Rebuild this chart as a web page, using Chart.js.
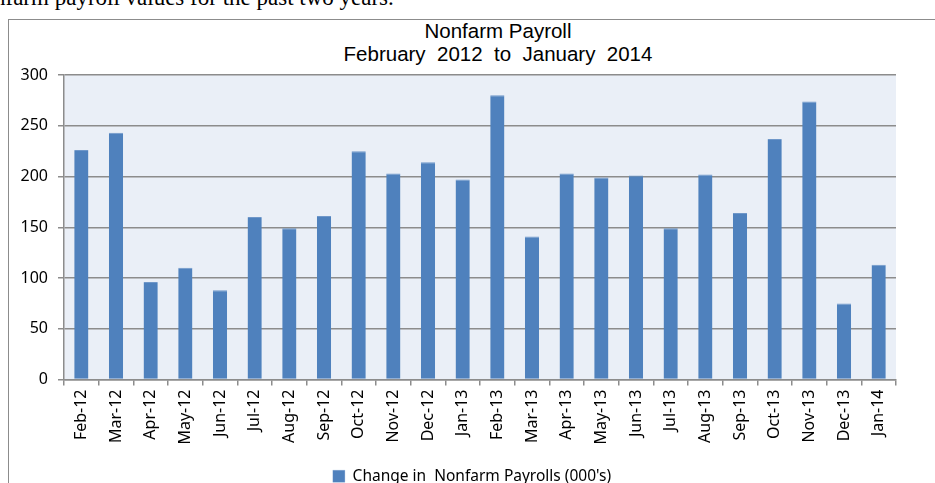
<!DOCTYPE html>
<html>
<head>
<meta charset="utf-8">
<script src="https://cdn.jsdelivr.net/npm/chart.js@4"></script>
<style>
  html, body { margin: 0; padding: 0; background: #fff; overflow: hidden; }
  body { width: 935px; height: 483px; position: relative; }
  #intro {
    position: absolute; left: -6px; top: -15px; white-space: nowrap;
    font-family: "Liberation Serif", serif; font-size: 23px; color: #000;
  }
  #frame {
    position: absolute; left: 8px; top: 19px; width: 940px; height: 480px;
    border-left: 1.5px solid #8c8c8c; border-top: 1.5px solid #8c8c8c;
  }
  #title {
    position: absolute; left: 298px; width: 400px; top: 19px; text-align: center;
    font-family: "Liberation Sans", Arial, sans-serif; font-size: 20.5px; line-height: 23px;
    color: #000; white-space: pre;
  }
  #wrap { position: absolute; left: 0; top: 0; width: 935px; height: 494px; }
</style>
</head>
<body>
<div id="intro">nfarm payroll values for the past two years.</div>
<div id="frame"></div>
<div id="title"></div>
<div id="wrap"><canvas id="payrollChart"></canvas></div>
<script>
const months = ['Feb-12', 'Mar-12', 'Apr-12', 'May-12', 'Jun-12', 'Jul-12', 'Aug-12', 'Sep-12',
  'Oct-12', 'Nov-12', 'Dec-12', 'Jan-13', 'Feb-13', 'Mar-13', 'Apr-13', 'May-13', 'Jun-13',
  'Jul-13', 'Aug-13', 'Sep-13', 'Oct-13', 'Nov-13', 'Dec-13', 'Jan-14'];
const payrollChange = [226, 243, 96, 110, 88, 160, 149, 161, 225, 203, 214, 197, 280, 141,
  203, 199, 201, 149, 202, 164, 237, 274, 75, 113];
const titleLines = ['Nonfarm Payroll', 'February  2012  to  January  2014'];
const seriesName = "Change in  Nonfarm Payrolls (000's)";

// title sits off-centre in the original, so it is plain text over the canvas
document.getElementById('title').textContent = titleLines.join('\n');

// light blue plot area like the spreadsheet chart
const plotBackground = {
  id: 'plotBackground',
  beforeDraw(chart) {
    const a = chart.chartArea;
    const ctx = chart.ctx;
    ctx.save();
    ctx.fillStyle = '#eaeff7';
    ctx.fillRect(a.left, a.top, a.right - a.left, a.bottom - a.top);
    ctx.restore();
  }
};

// legend is a bit right of the canvas centre in the original
const legendShift = {
  id: 'legendShift',
  afterLayout(chart) {
    chart.legend.left += 24;
    chart.legend.right += 24;
  }
};

const ctx = document.getElementById('payrollChart').getContext('2d');
new Chart(ctx, {
  type: 'bar',
  data: {
    labels: months,
    datasets: [{
      label: seriesName,
      data: payrollChange,
      backgroundColor: '#4f81bd',
      borderColor: '#6f97c9',
      borderWidth: { top: 1, left: 0, right: 0, bottom: 0 },
      categoryPercentage: 1,
      barPercentage: 0.41
    }]
  },
  options: {
    responsive: true,
    maintainAspectRatio: false,
    animation: false,
    layout: { padding: { left: 0, right: 39, top: 75, bottom: 0 } },
    scales: {
      x: {
        offset: true,
        grid: {
          offset: true,
          drawOnChartArea: false,
          drawTicks: true,
          tickLength: 6,
          color: '#8c8c8c',
          lineWidth: 1.5
        },
        border: { color: '#8c8c8c', width: 1.5 },
        ticks: {
          minRotation: 90,
          maxRotation: 90,
          autoSkip: false,
          padding: 4,
          color: '#000',
          font: { family: 'Noto Sans', size: 16 }
        },
        afterFit(scale) { scale.height = 79; }
      },
      y: {
        min: 0,
        max: 300,
        ticks: {
          stepSize: 50,
          padding: 10,
          color: '#000',
          font: { family: 'Noto Sans', size: 16 }
        },
        grid: { color: '#8c8c8c', lineWidth: 1.5, tickLength: 6 },
        border: { color: '#8c8c8c', width: 1.5 },
        afterFit(scale) { scale.width = 64; }
      }
    },
    plugins: {
      title: { display: false },
      legend: {
        position: 'bottom',
        labels: {
          boxWidth: 12,
          boxHeight: 12,
          color: '#000',
          font: { family: 'Noto Sans', size: 15.5 }
        }
      },
      tooltip: { enabled: false }
    }
  },
  plugins: [plotBackground, legendShift]
});
</script>
</body>
</html>
